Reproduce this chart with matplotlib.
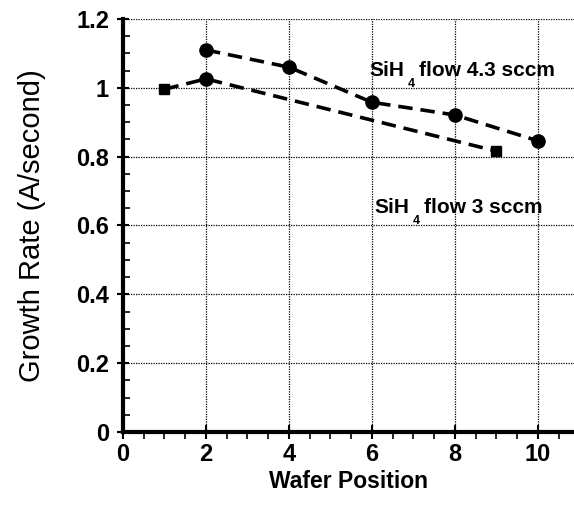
import matplotlib
matplotlib.use("Agg")
import matplotlib.pyplot as plt
from matplotlib.ticker import MultipleLocator

plt.rcParams['font.family'] = ['Liberation Sans', 'DejaVu Sans']

# growth rate per wafer position for the two silane flows
pos_43 = [2, 4, 6, 8, 10]
rate_43 = [1.11, 1.06, 0.958, 0.921, 0.846]
pos_3 = [1, 2, 9]
rate_3 = [0.996, 1.026, 0.816]
marker_3 = ['s', 'o', 's']

fig = plt.figure(figsize=(5.74, 5.05), dpi=100)
ax = fig.add_axes([0.2143, 0.1446, 0.7857, 0.8178])

dash = (0, (4, 2.2))
ax.plot(pos_43, rate_43, color='black', lw=2.6, ls=dash,
        marker='o', ms=9.5, zorder=3)
ax.plot(pos_3, rate_3, color='black', lw=2.6, ls=dash, zorder=3)
for x, y, m in zip(pos_3, rate_3, marker_3):
    ax.plot(x, y, marker=m, color='black', ms=9.5 if m == 'o' else 7.5, zorder=4)


def flow_label(x, y, flow):
    # "SiH" + low subscript 4 + rest of the label
    ax.text(x, y, 'SiH', fontsize=15, fontweight='bold')
    ax.annotate('4', (x, y), xytext=(27, -8), textcoords='offset points',
                fontsize=9, fontweight='bold')
    ax.annotate('flow ' + flow + ' sccm', (x, y), xytext=(35.5, 0),
                textcoords='offset points', fontsize=15, fontweight='bold')


flow_label(5.95, 1.034, '4.3')
flow_label(6.07, 0.636, '3')

ax.set_xlim(0, 10.87)
ax.set_ylim(0, 1.2)
ax.set_xticks([0, 2, 4, 6, 8, 10])
ax.set_yticks([0, 0.2, 0.4, 0.6, 0.8, 1.0, 1.2])
ax.set_yticklabels(['0', '0.2', '0.4', '0.6', '0.8', '1', '1.2'])
ax.xaxis.set_minor_locator(MultipleLocator(0.5))
ax.yaxis.set_minor_locator(MultipleLocator(0.05))
for lab in ax.get_xticklabels() + ax.get_yticklabels():
    lab.set_fontweight('bold')

ax.grid(True, which='major', color='black', ls=(0, (1, 1)), lw=0.9)
ax.set_axisbelow(True)

for s in ['top', 'right']:
    ax.spines[s].set_visible(False)
ax.spines['left'].set_linewidth(3)
ax.spines['bottom'].set_linewidth(3)

ax.tick_params(axis='y', which='major', direction='inout', length=8, width=1.5,
               labelsize=17, pad=6)
ax.tick_params(axis='y', which='minor', direction='in', length=5, width=1.2)
ax.tick_params(axis='x', which='major', direction='inout', length=10, width=1.5,
               labelsize=17, pad=3)
ax.tick_params(axis='x', which='minor', direction='out', length=5, width=1.2)

ax.set_xlabel('Wafer Position', fontsize=16.5, fontweight='bold', labelpad=3)
ax.set_ylabel('Growth Rate (A/second)', fontsize=21, fontweight='medium',
              labelpad=22)

fig.savefig('out.png', dpi=100)
